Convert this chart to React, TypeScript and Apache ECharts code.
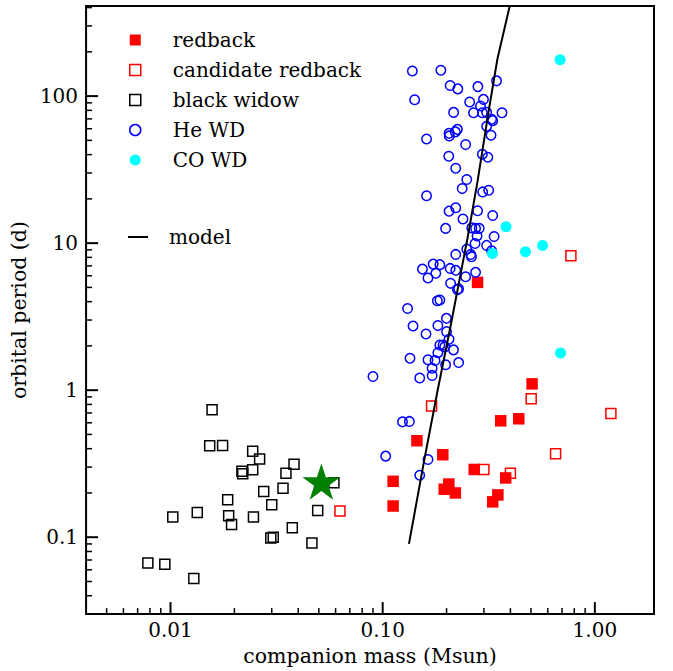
import React, { useEffect, useRef } from 'react';
import * as echarts from 'echarts';

// Axis extents (log scales)
const X_MIN = 0.004;
const X_MAX = 1.9;
const Y_MIN = 0.03;
const Y_MAX = 410;

// Tick values and labels
const xTickValues = [0.01, 0.1, 1];
const xTickLabels = ['0.01', '0.10', '1.00'];
const yTickValues = [0.1, 1, 10, 100];
const yTickLabels = ['0.1', '1', '10', '100'];
const xMinorTicks = [0.005, 0.006, 0.007, 0.008, 0.009, 0.02, 0.03, 0.04, 0.05, 0.06, 0.07, 0.08, 0.09, 0.2, 0.3, 0.4, 0.5, 0.6, 0.7, 0.8, 0.9];
const yMinorTicks = [0.04, 0.05, 0.06, 0.07, 0.08, 0.09, 0.2, 0.3, 0.4, 0.5, 0.6, 0.7, 0.8, 0.9, 2, 3, 4, 5, 6, 7, 8, 9, 20, 30, 40, 50, 60, 70, 80, 90, 200, 300, 400];

// Series data: companion mass (Msun) and orbital period (d)
const redbackMass = [0.280, 0.112, 0.112, 0.145, 0.192, 0.195, 0.205, 0.220, 0.270, 0.360, 0.438, 0.506, 0.380, 0.349, 0.330];
const redbackPeriod = [5.41, 0.240, 0.163, 0.453, 0.364, 0.212, 0.230, 0.200, 0.289, 0.619, 0.639, 1.104, 0.253, 0.194, 0.174];

const candidateMass = [0.771, 0.170, 0.300, 0.400, 0.501, 1.19, 0.653, 0.0629];
const candidatePeriod = [8.21, 0.782, 0.289, 0.272, 0.873, 0.695, 0.369, 0.151];

const blackWidowMass = [0.0157, 0.0153, 0.0176, 0.0244, 0.0263, 0.0217, 0.0219, 0.0244, 0.0382, 0.0350, 0.0339, 0.0275, 0.0186, 0.0300, 0.01025, 0.01337, 0.0188, 0.0194, 0.0246, 0.0375, 0.0297, 0.0305, 0.0464, 0.0494, 0.0589, 0.00782, 0.00940, 0.01288];
const blackWidowPeriod = [0.735, 0.419, 0.420, 0.384, 0.340, 0.281, 0.270, 0.288, 0.313, 0.272, 0.215, 0.205, 0.180, 0.166, 0.137, 0.147, 0.140, 0.122, 0.137, 0.116, 0.0989, 0.100, 0.0915, 0.152, 0.235, 0.0669, 0.0656, 0.0524];

const heWdMass = [
  0.138, 0.188, 0.208, 0.226, 0.281, 0.344, 0.1415, 0.257, 0.2985, 0.289,
  0.216, 0.268, 0.295, 0.309, 0.326, 0.330, 0.365, 0.309, 0.161, 0.2055,
  0.206, 0.220, 0.225, 0.324, 0.246, 0.295, 0.313, 0.2048, 0.221, 0.249,
  0.237, 0.296, 0.316, 0.161, 0.221, 0.2055, 0.280, 0.239, 0.330, 0.198,
  0.263, 0.274, 0.285, 0.2785, 0.335, 0.2725, 0.309, 0.326, 0.249, 0.221,
  0.260, 0.262, 0.154, 0.173, 0.186, 0.1635, 0.178, 0.208, 0.221, 0.246,
  0.274, 0.209, 0.225, 0.228, 0.181, 0.186, 0.131, 0.1997, 0.139, 0.182,
  0.160, 0.200, 0.2055, 0.186, 0.1925, 0.196, 0.2156, 0.182, 0.1345, 0.1635,
  0.1765, 0.198, 0.228, 0.171, 0.171, 0.1495, 0.0900, 0.124, 0.1336, 0.1033,
  0.1635, 0.1495,
];
const heWdPeriod = [
  148, 150, 118, 112, 116, 127, 94.5, 91.2, 95.0, 85.7,
  77.5, 77.1, 77.1, 77.5, 69.5, 68.1, 77.1, 62.3, 51.1, 55.8,
  53.6, 57.1, 59.4, 54.1, 46.8, 40.2, 38.4, 39.0, 32.3, 27.1,
  23.5, 22.3, 22.9, 21.0, 17.4, 16.5, 16.6, 14.6, 15.4, 12.6,
  12.7, 12.6, 12.6, 11.2, 11.1, 9.95, 9.65, 8.88, 9.10, 8.38,
  8.38, 8.09, 6.66, 7.20, 7.14, 5.79, 6.23, 6.73, 6.53, 5.91,
  6.33, 5.33, 4.83, 4.90, 4.06, 4.10, 3.59, 3.08, 2.73, 2.75,
  2.41, 2.50, 2.22, 2.03, 2.03, 1.97, 1.88, 1.80, 1.65, 1.61,
  1.59, 1.49, 1.54, 1.41, 1.26, 1.21, 1.24, 0.609, 0.613, 0.356,
  0.338, 0.264,
];

const coWdMass = [0.689, 0.686, 0.3815, 0.567, 0.471, 0.329];
const coWdPeriod = [1.791, 176.7, 12.92, 9.65, 8.74, 8.51];

const starMass = [0.0514];
const starPeriod = [0.239];

const modelMass = [0.133, 0.1566, 0.1811, 0.2094, 0.2509, 0.2797, 0.3172, 0.3475, 0.397];
const modelPeriod = [0.0901, 0.328, 0.980, 2.776, 10.76, 26.1, 82.1, 179.5, 410];

const pairs = (xs: number[], ys: number[]) => xs.map((x, i) => [x, ys[i]]);

const STAR_PATH =
  'path://M100,0 L122.45,69.1 L195.11,69.1 L136.33,111.8 L158.78,180.9 L100,138.2 L41.22,180.9 L63.67,111.8 L4.89,69.1 L77.55,69.1 Z';

const FONT = 'DejaVu Serif';
const FS_LEGEND = 20;
const FS_TICK = 20;
const FS_NAME = 20.5;

function decadeLabel(values: number[], labels: string[]) {
  return (v: number) => {
    const l = Math.log10(v);
    const e = Math.round(l);
    if (Math.abs(l - e) > 1e-6) return '';
    const i = values.findIndex((t) => Math.round(Math.log10(t)) === e);
    return i >= 0 ? labels[i] : '';
  };
}

export default function App() {
  const ref = useRef<HTMLDivElement>(null);

  useEffect(() => {
    if (!ref.current) return;
    const chart = echarts.init(ref.current, null, { renderer: 'svg' });

    const xTickData = [
      ...xTickValues.map((v) => [v, Y_MIN, 12]),
      ...xMinorTicks.map((v) => [v, Y_MIN, 6]),
    ];
    const yTickData = [
      ...yTickValues.map((v) => [X_MIN, v, 12]),
      ...yMinorTicks.map((v) => [X_MIN, v, 6]),
    ];

    const openStyle = (c: string) => ({ color: 'rgba(0,0,0,0)', borderColor: c, borderWidth: 1.5, opacity: 1 });

    const option: any = {
      animation: false,
      backgroundColor: '#ffffff',
      grid: {
        left: 85,
        right: 19,
        top: 6,
        bottom: 55,
        show: true,
        borderColor: '#000',
        borderWidth: 2,
        backgroundColor: 'rgba(0,0,0,0)',
        containLabel: false,
      },
      xAxis: {
        type: 'log',
        logBase: 10,
        min: X_MIN,
        max: X_MAX,
        axisLine: { show: false },
        axisTick: { show: false },
        splitLine: { show: false },
        axisLabel: {
          formatter: decadeLabel(xTickValues, xTickLabels),
          color: '#000',
          fontFamily: FONT,
          fontSize: FS_TICK,
          margin: 6,
          showMinLabel: false,
          showMaxLabel: false,
        },
        name: 'companion mass (Msun)',
        nameLocation: 'middle',
        nameGap: 29,
        nameTextStyle: { color: '#000', fontFamily: FONT, fontSize: FS_NAME },
      },
      yAxis: {
        type: 'log',
        logBase: 10,
        min: Y_MIN,
        max: Y_MAX,
        axisLine: { show: false },
        axisTick: { show: false },
        splitLine: { show: false },
        axisLabel: {
          formatter: decadeLabel(yTickValues, yTickLabels),
          color: '#000',
          fontFamily: FONT,
          fontSize: FS_TICK,
          margin: 8,
          showMinLabel: false,
          showMaxLabel: false,
        },
        name: 'orbital period (d)',
        nameLocation: 'middle',
        nameGap: 40,
        nameTextStyle: { color: '#000', fontFamily: FONT, fontSize: FS_NAME },
      },
      legend: [
        {
          orient: 'vertical',
          left: 129,
          top: 30,
          padding: 0,
          itemWidth: 11,
          itemHeight: 11,
          itemGap: 10,
          selectedMode: false,
          textStyle: { fontFamily: FONT, fontSize: FS_LEGEND, color: '#000', padding: [0, 0, 0, 27] },
          data: [
            { name: 'redback', icon: 'rect', itemStyle: { color: '#ff0000', borderWidth: 0, opacity: 1 } },
            { name: 'candidate redback', icon: 'rect', itemStyle: openStyle('#ff0000') },
            { name: 'black widow', icon: 'rect', itemStyle: openStyle('#000000') },
            { name: 'He WD', icon: 'circle', itemStyle: openStyle('#0000ff') },
            { name: 'CO WD', icon: 'circle', itemStyle: { color: '#00ffff', borderWidth: 0, opacity: 1 } },
          ],
        },
        {
          orient: 'vertical',
          left: 128,
          top: 227,
          padding: 0,
          itemWidth: 20,
          itemHeight: 2,
          selectedMode: false,
          textStyle: { fontFamily: FONT, fontSize: FS_LEGEND, color: '#000', padding: [0, 0, 0, 16] },
          data: [
            {
              name: 'model',
              icon: 'path://M0,0 L20,0 L20,2 L0,2 Z',
              itemStyle: { color: '#000', borderWidth: 0, opacity: 1 },
            },
          ],
        },
      ],
      series: [
        {
          name: 'redback',
          type: 'scatter',
          symbol: 'rect',
          symbolSize: 11.5,
          itemStyle: { color: '#ff0000', opacity: 1 },
          emphasis: { disabled: true },
          data: pairs(redbackMass, redbackPeriod),
        },
        {
          name: 'candidate redback',
          type: 'scatter',
          symbol: 'rect',
          symbolSize: 10,
          itemStyle: openStyle('#ff0000'),
          emphasis: { disabled: true },
          data: pairs(candidateMass, candidatePeriod),
        },
        {
          name: 'black widow',
          type: 'scatter',
          symbol: 'rect',
          symbolSize: 10,
          itemStyle: openStyle('#000000'),
          emphasis: { disabled: true },
          data: pairs(blackWidowMass, blackWidowPeriod),
        },
        {
          name: 'He WD',
          type: 'scatter',
          symbol: 'circle',
          symbolSize: 9.5,
          itemStyle: openStyle('#0000ff'),
          emphasis: { disabled: true },
          data: pairs(heWdMass, heWdPeriod),
        },
        {
          name: 'CO WD',
          type: 'scatter',
          symbol: 'circle',
          symbolSize: 11,
          itemStyle: { color: '#00ffff', opacity: 1 },
          emphasis: { disabled: true },
          data: pairs(coWdMass, coWdPeriod),
        },
        {
          name: 'model',
          type: 'line',
          symbol: 'none',
          clip: true,
          lineStyle: { color: '#000', width: 2 },
          itemStyle: { color: '#000' },
          emphasis: { disabled: true },
          data: pairs(modelMass, modelPeriod),
        },
        {
          name: 'PSR',
          type: 'scatter',
          symbol: STAR_PATH,
          symbolSize: 38,
          symbolKeepAspect: true,
          itemStyle: { color: '#008000', opacity: 1 },
          emphasis: { disabled: true },
          data: pairs(starMass, starPeriod),
        },
        {
          name: 'xticks',
          type: 'custom',
          silent: true,
          clip: false,
          data: xTickData,
          renderItem: (_p: any, api: any) => {
            const p = api.coord([api.value(0), api.value(1)]);
            const len = api.value(2);
            return {
              type: 'line',
              shape: { x1: p[0], y1: p[1], x2: p[0], y2: p[1] - len },
              style: { stroke: '#000', lineWidth: len > 8 ? 2 : 1.5 },
            };
          },
        },
        {
          name: 'yticks',
          type: 'custom',
          silent: true,
          clip: false,
          data: yTickData,
          renderItem: (_p: any, api: any) => {
            const p = api.coord([api.value(0), api.value(1)]);
            const len = api.value(2);
            return {
              type: 'line',
              shape: { x1: p[0], y1: p[1], x2: p[0] + len, y2: p[1] },
              style: { stroke: '#000', lineWidth: len > 8 ? 2 : 1.5 },
            };
          },
        },
      ],
    };

    chart.setOption(option);
    return () => chart.dispose();
  }, []);

  return (
    <div
      ref={ref}
      style={{ position: 'absolute', left: 0, top: 0, width: 673, height: 671, background: '#fff' }}
    />
  );
}
